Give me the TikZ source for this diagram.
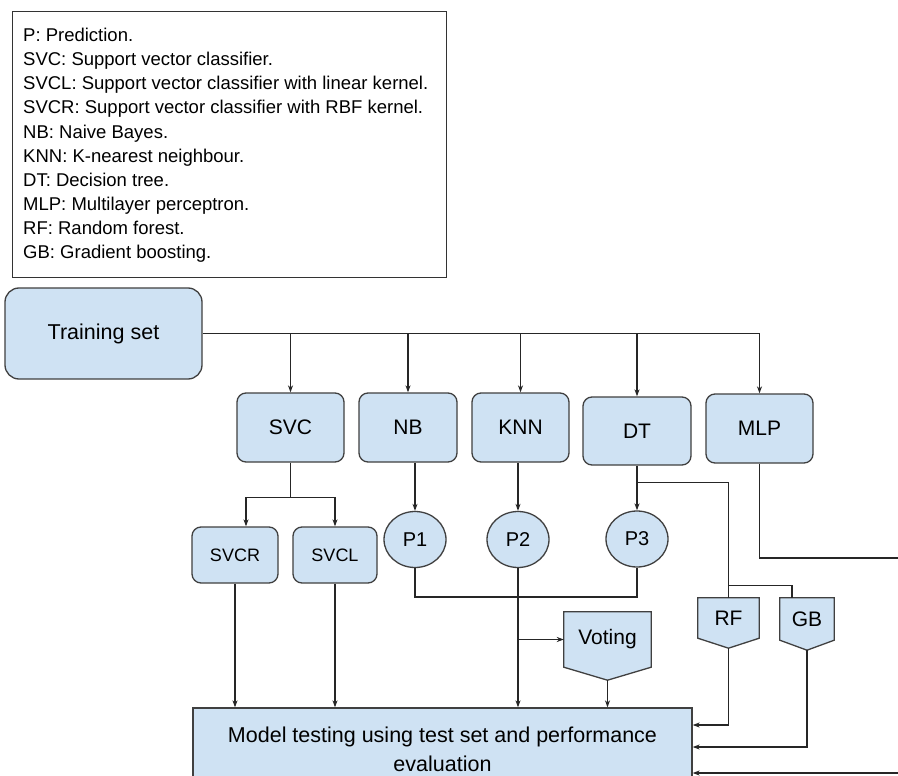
\documentclass[tikz,border=0pt]{standalone}
\usepackage{fontspec}
\setmainfont{Liberation Sans}
\usetikzlibrary{shapes.geometric,arrows.meta,calc,backgrounds}
\definecolor{boxfill}{HTML}{CFE2F3}
\definecolor{boxline}{HTML}{404040}
\begin{document}
\begin{tikzpicture}[x=1pt,y=-1pt,
  every node/.style={font=\fontsize{21}{24}\selectfont, text=black},
  rbox/.style={draw=boxline, line width=1.3pt, fill=boxfill, rounded corners=9pt, inner sep=0pt},
  pbox/.style={draw=boxline, line width=1.3pt, fill=boxfill, ellipse, inner sep=0pt, minimum width=62pt, minimum height=56pt, font=\fontsize{20}{24}\selectfont},
  pent/.style={inner sep=0pt},
  pentshape/.style={draw=boxline, line width=1.3pt, fill=boxfill, line join=miter},
  conn/.style={line width=1.2pt, draw=black!85},
  arr/.style={conn, -{Stealth[length=7pt,width=5pt]}},
]
\useasboundingbox (0,0) rectangle (898,776);
\begin{scope}[on background layer]
\fill[white] (0,0) rectangle (898,776);
\end{scope}

% legend
\node[draw=black!80, line width=1.3pt, minimum width=434pt, minimum height=266pt, anchor=north west, inner sep=0pt] (legend) at (12,11) {};
\node[anchor=north west, align=left, inner sep=0pt, font=\fontsize{18.5}{24.1}\selectfont] (legtext) at (23,28) {P: Prediction.\\
SVC: Support vector classifier.\\
SVCL: Support vector classifier with linear kernel.\\
SVCR: Support vector classifier with RBF kernel.\\
NB: Naive Bayes.\\
KNN: K-nearest neighbour.\\
DT: Decision tree.\\
MLP: Multilayer perceptron.\\
RF: Random forest.\\
GB: Gradient boosting.};

% main nodes
\node[rbox, rounded corners=14pt, minimum width=197pt, minimum height=91pt, font=\fontsize{21.5}{24}\selectfont] (ts) at (103.5,333.5) {Training set};
\node[rbox, minimum width=107pt, minimum height=69pt] (svc) at (290.5,427.5) {SVC};
\node[rbox, minimum width=98pt, minimum height=69pt] (nb) at (408,427.5) {NB};
\node[rbox, minimum width=97pt, minimum height=69pt] (knn) at (520.5,427.5) {KNN};
\node[rbox, minimum width=108pt, minimum height=68pt] (dt) at (637,431) {DT};
\node[rbox, minimum width=107pt, minimum height=69pt] (mlp) at (759.5,428.5) {MLP};

\node[rbox, minimum width=86pt, minimum height=56pt, font=\fontsize{18}{22}\selectfont] (svcr) at (235,555) {SVCR};
\node[rbox, minimum width=84pt, minimum height=56pt, font=\fontsize{18}{22}\selectfont] (svcl) at (335,555) {SVCL};

\node[pbox] (p1) at (415,539.5) {P1};
\node[pbox] (p2) at (518,539.5) {P2};
\node[pbox] (p3) at (637,539) {P3};

\node[pent, minimum width=87pt, minimum height=55pt] (vote) at (607.5,639.5) {Voting};
\node[pent, minimum width=61pt, minimum height=40pt] (rf) at (728.5,618) {RF};
\node[pent, minimum width=54pt, minimum height=42pt] (gb) at (807,619) {GB};
\coordinate (votetip) at ($(vote.south)+(0,13)$);
\coordinate (rftip) at ($(rf.south)+(0,10)$);
\coordinate (gbtip) at ($(gb.south)+(0,10)$);
\begin{scope}[on background layer]
\filldraw[pentshape] (vote.north west) -- (vote.north east) -- (vote.south east) -- (votetip) -- (vote.south west) -- cycle;
\filldraw[pentshape] (rf.north west) -- (rf.north east) -- (rf.south east) -- (rftip) -- (rf.south west) -- cycle;
\filldraw[pentshape] (gb.north west) -- (gb.north east) -- (gb.south east) -- (gbtip) -- (gb.south west) -- cycle;
\end{scope}

\node[draw=boxline, line width=1.3pt, fill=boxfill, inner sep=0pt, minimum width=499pt, minimum height=82pt, align=center, font=\fontsize{21.5}{29}\selectfont] (model) at (442.5,749) {Model testing using test set and performance\\evaluation};

% connectors
\draw[conn] (ts.east) -- (mlp.north |- ts.east);
\foreach \n in {svc,nb,knn,dt,mlp} \draw[arr] (\n.north |- ts.east) -- (\n.north);

\draw[conn] (svc.south) -- ++(0,35) coordinate (svcj);
\draw[arr] (svcj) -| ([xshift=11pt]svcr.north);
\draw[arr] (svcj) -| (svcl.north);

\draw[arr] (p1.north |- nb.south) -- (p1.north);
\draw[arr] (p2.north |- knn.south) -- (p2.north);
\draw[arr] (dt.south) -- (p3.north);

\coordinate (dtj) at ($(dt.south)+(0,17)$);
\coordinate (rfj) at ($(rf.north)+(0,-12)$);
\draw[conn] (dtj) -| (rfj) -- (rf.north);
\draw[conn] (rfj) -| ([xshift=-15pt]gb.north);

\coordinate (pbar) at (0,597);
\draw[conn] (p1.south) |- (pbar -| p3.south) -- (p3.south);

\draw[arr] (p2.south) -- (p2.south |- model.north);
\draw[arr] (p2.south |- vote.west) -- (vote.west);
\draw[arr] (votetip) -- (votetip |- model.north);
\draw[arr] (svcr.south) -- (svcr.south |- model.north);
\draw[arr] (svcl.south) -- (svcl.south |- model.north);

\draw[arr] (rftip) |- ($(model.east)+(0,-24)$);
\draw[arr] (gbtip) |- ($(model.east)+(0,-2)$);

\coordinate (offa) at (912,558);
\coordinate (offb) at (912,773);
\draw[arr] (mlp.south) |- (offa) -- (offb) -- ($(model.east)+(0,24)$);
\end{tikzpicture}
\end{document}
